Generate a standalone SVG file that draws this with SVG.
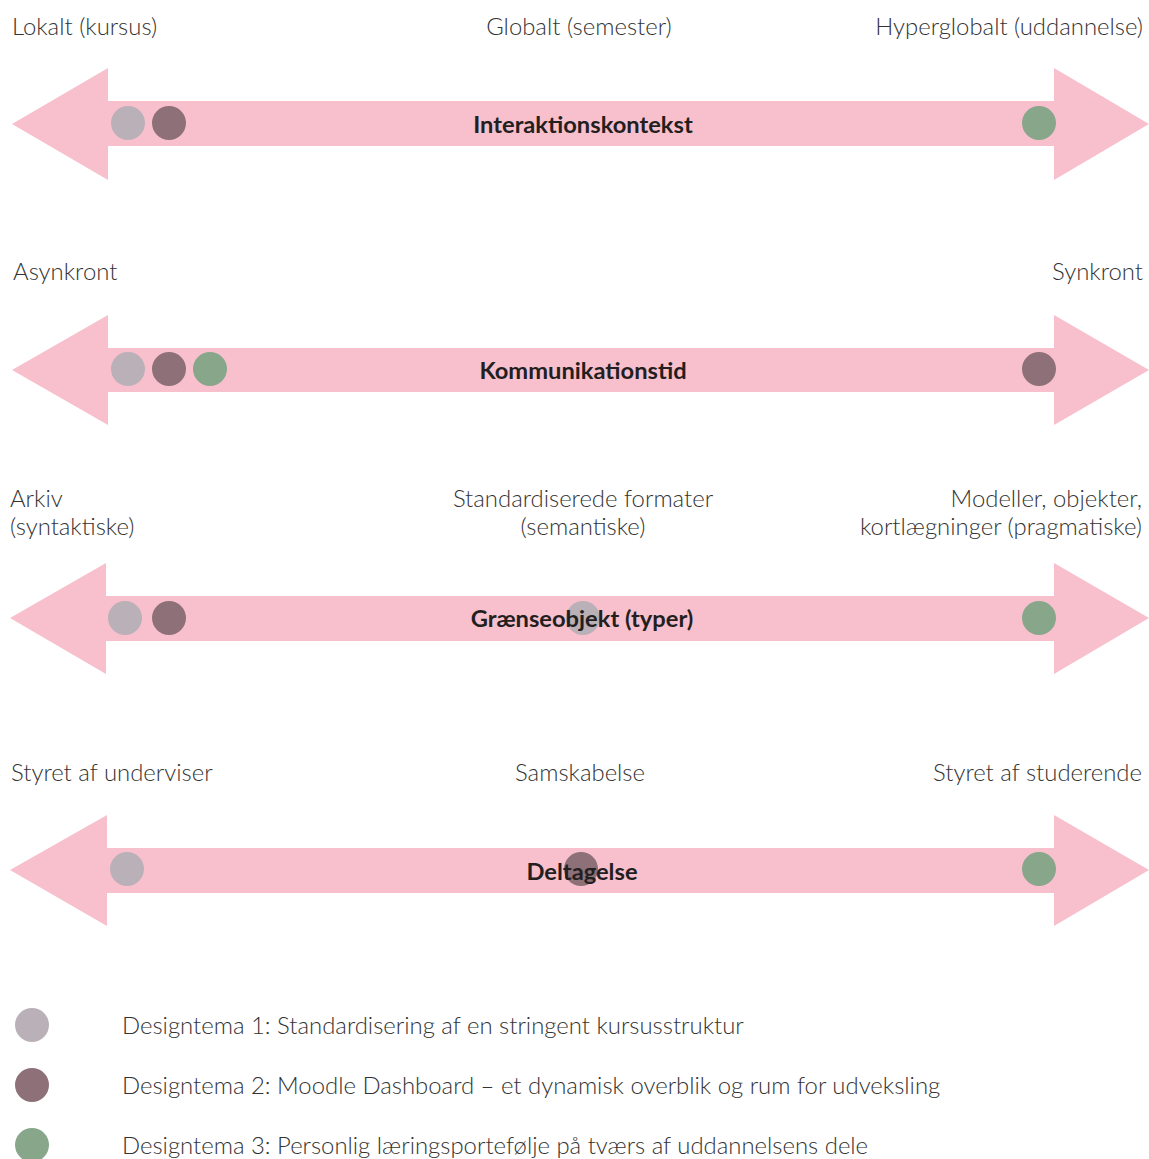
<svg xmlns="http://www.w3.org/2000/svg" width="1149" height="1159" viewBox="0 0 1149 1159">
<defs>
<style>
.arrow{fill:#F8BFCD}
.lbl{font-family:Lato,"Open Sans","DejaVu Sans",sans-serif;font-weight:300;font-size:23.9px;fill:#333333}
.ttl{font-family:Lato,"Open Sans","DejaVu Sans",sans-serif;font-weight:700;font-size:23.7px;fill:#231f20;text-anchor:middle}
.mid{text-anchor:middle}
.end{text-anchor:end}
.d1{fill:#BAB0B8}
.d2{fill:#8D7078}
.d3{fill:#87A68A}
</style>
</defs>
<rect width="1149" height="1159" fill="#ffffff"/>
<g id="connectors">
<polygon id="axis1" class="arrow" points="12,124 108,68 108,101 1054,101 1054,68 1149,124 1054,180 1054,146 108,146 108,180"/>
<polygon id="axis2" class="arrow" points="12,370 108,315 108,348 1054,348 1054,315 1149,370 1054,425 1054,392 108,392 108,425"/>
<polygon id="axis3" class="arrow" points="10,618 106,563 106,596 1054,596 1054,563 1149,618 1054,674 1054,641 106,641 106,674"/>
<polygon id="axis4" class="arrow" points="10,870 107,815 107,848 1054,848 1054,815 1149,870 1054,926 1054,893 107,893 107,926"/>
</g>
<g id="row1">
<text class="lbl" x="12" y="35">Lokalt (kursus)</text>
<text class="lbl mid" x="579" y="35">Globalt (semester)</text>
<text class="lbl end" x="1143" y="35">Hyperglobalt (uddannelse)</text>
<circle class="d1" cx="128" cy="123" r="17"/>
<circle class="d2" cx="169" cy="123" r="17"/>
<circle class="d3" cx="1039" cy="123" r="17"/>
<text class="ttl" x="583" y="133">Interaktionskontekst</text>
</g>
<g id="row2">
<text class="lbl" x="13" y="280">Asynkront</text>
<text class="lbl end" x="1143" y="280">Synkront</text>
<circle class="d1" cx="128" cy="369" r="17"/>
<circle class="d2" cx="169" cy="369" r="17"/>
<circle class="d3" cx="210" cy="369" r="17"/>
<circle class="d2" cx="1039" cy="369" r="17"/>
<text class="ttl" x="583" y="379">Kommunikationstid</text>
</g>
<g id="row3">
<text class="lbl" x="10" y="507">Arkiv</text>
<text class="lbl" x="10" y="535">(syntaktiske)</text>
<text class="lbl mid" x="583" y="507">Standardiserede formater</text>
<text class="lbl mid" x="583" y="535">(semantiske)</text>
<text class="lbl end" x="1142" y="507">Modeller, objekter,</text>
<text class="lbl end" x="1142" y="535">kortlægninger (pragmatiske)</text>
<circle class="d1" cx="125" cy="618" r="17"/>
<circle class="d2" cx="169" cy="618" r="17"/>
<circle class="d1" cx="583" cy="618" r="17"/>
<circle class="d3" cx="1039" cy="618" r="17"/>
<text class="ttl" x="582" y="627">Grænseobjekt (typer)</text>
</g>
<g id="row4">
<text class="lbl" x="11" y="781">Styret af underviser</text>
<text class="lbl mid" x="580" y="781">Samskabelse</text>
<text class="lbl end" x="1142" y="781">Styret af studerende</text>
<circle class="d1" cx="127" cy="869" r="17"/>
<circle class="d2" cx="581" cy="869" r="17"/>
<circle class="d3" cx="1039" cy="869" r="17"/>
<text class="ttl" x="582" y="880">Deltagelse</text>
</g>
<g id="legend">
<circle class="d1" cx="32" cy="1025" r="17"/>
<text class="lbl" x="122" y="1034">Designtema 1: Standardisering af en stringent kursusstruktur</text>
<circle class="d2" cx="32" cy="1085" r="17"/>
<text class="lbl" x="122" y="1094">Designtema 2: Moodle Dashboard – et dynamisk overblik og rum for udveksling</text>
<circle class="d3" cx="32" cy="1145" r="17"/>
<text class="lbl" x="122" y="1154">Designtema 3: Personlig læringsportefølje på tværs af uddannelsens dele</text>
</g>
</svg>
